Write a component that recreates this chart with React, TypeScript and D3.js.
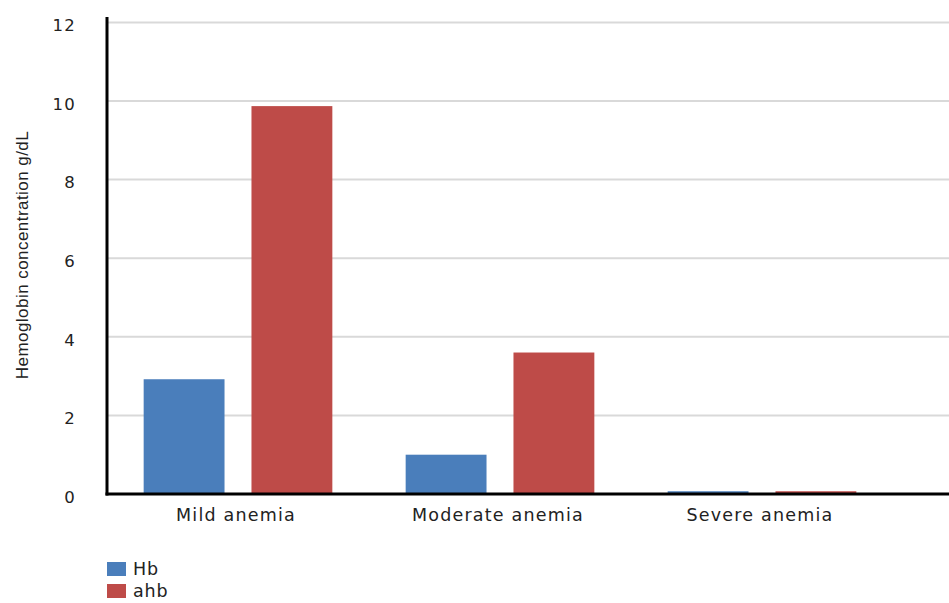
import React from "react";
import * as d3 from "d3";

const categories = ["Mild anemia", "Moderate anemia", "Severe anemia"];
const seriesNames = ["Hb", "ahb"];
const hbValues = [2.92, 1.0, 0.07];
const ahbValues = [9.87, 3.6, 0.07];
const yTicks = [0, 2, 4, 6, 8, 10, 12];
const colors = ["#4a7ebb", "#be4b48"];

const W = 949;
const H = 603;
const left = 107;
const right = 949;
const top = 17;
const bottom = 494;

export default function App() {
  const x = d3.scaleBand<string>().domain(categories).range([107, 893]).paddingInner(0).paddingOuter(0);
  const inner = d3
    .scaleBand<string>()
    .domain(seriesNames)
    .range([0, x.bandwidth()])
    .paddingInner(0.25)
    .paddingOuter(0.34);
  const y = d3.scaleLinear().domain([0, 12]).range([bottom, bottom - 12 * 39.3]);
  const series = [hbValues, ahbValues];

  return (
    <svg
      width={W}
      height={H}
      style={{ position: "absolute", left: 0, top: 0, background: "#fff" }}
      fontFamily="DejaVu Sans, Verdana, sans-serif"
    >
      {yTicks.map((t) => (
        <g key={t}>
          {t > 0 && (
            <line x1={left} x2={right} y1={y(t)} y2={y(t)} stroke="#d9d9d9" strokeWidth={2} />
          )}
          <text x={76} y={y(t) + 3} dy="0.35em" textAnchor="end" fontSize={16.5} fill="#222" letterSpacing={1.2}>
            {t}
          </text>
        </g>
      ))}
      {categories.map((c, i) => (
        <g key={c} transform={`translate(${x(c)},0)`}>
          {series.map((vals, s) => (
            <rect
              key={s}
              x={inner(seriesNames[s])}
              width={inner.bandwidth()}
              y={y(vals[i])}
              height={bottom - y(vals[i])}
              fill={colors[s]}
            />
          ))}
          <text
            x={x.bandwidth() / 2 - 2}
            y={521}
            textAnchor="middle"
            fontSize={17.5}
            fill="#222"
            letterSpacing={1.2}
          >
            {c}
          </text>
        </g>
      ))}
      <line x1={left} x2={left} y1={top} y2={bottom + 1.5} stroke="#000" strokeWidth={3} />
      <line x1={left - 1.5} x2={right} y1={bottom} y2={bottom} stroke="#000" strokeWidth={3} />
      <text
        transform={`translate(28,${255}) rotate(-90)`}
        textAnchor="middle"
        fontSize={17}
        fontFamily="Liberation Sans, Arial, sans-serif"
        fill="#222"
        letterSpacing={0.45}
      >
        Hemoglobin concentration g/dL
      </text>
      {seriesNames.map((n, s) => (
        <g key={n} transform={`translate(107,${562 + s * 22})`}>
          <rect width={19} height={14} fill={colors[s]} />
          <text x={26} y={13} fontSize={17.5} fill="#222" letterSpacing={0.8}>
            {n}
          </text>
        </g>
      ))}
    </svg>
  );
}
